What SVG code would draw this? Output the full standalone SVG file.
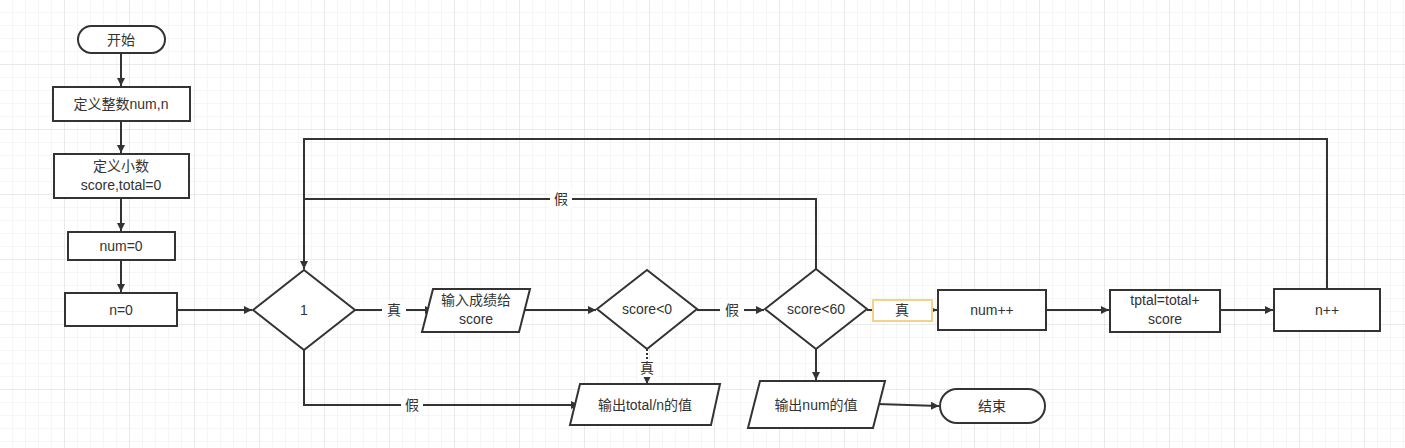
<svg xmlns="http://www.w3.org/2000/svg" width="1405" height="448" viewBox="0 0 1405 448">
<defs>
<pattern id="g" width="13" height="13" patternUnits="userSpaceOnUse"><path d="M13 0V13H0" fill="none" stroke="#ececec" stroke-width="1"/></pattern>
<pattern id="G" width="65" height="65" patternUnits="userSpaceOnUse"><rect width="65" height="65" fill="url(#g)"/><path d="M65 0V65H0" fill="none" stroke="#dedede" stroke-width="1"/></pattern>
<marker id="a" viewBox="0 0 10 10" refX="10" refY="5" markerWidth="8" markerHeight="8" markerUnits="userSpaceOnUse" orient="auto"><path d="M0 0L10 5L0 10z" fill="#333"/></marker>
</defs>
<style>
.s{fill:#fff;stroke:#333;stroke-width:2}
.t{font-family:"Liberation Sans","Noto Sans CJK SC",sans-serif;font-size:14px;fill:#333;text-anchor:middle;dominant-baseline:central}
.c path{fill:none;stroke:#333;stroke-width:2;marker-end:url(#a)}
.c path.n{marker-end:none}
.l{fill:#fff}
</style>
<rect width="1405" height="448" fill="#fff"/>
<rect width="1405" height="448" fill="url(#G)"/>
<g class="c">
<path d="M121 53V86"/>
<path d="M121 121V153"/>
<path d="M121 198V231"/>
<path d="M121 260V292"/>
<path d="M177 310H252"/>
<path d="M355 310H433"/>
<path d="M522 310H596"/>
<path d="M697 310H764"/>
<path d="M867 310H937"/>
<path d="M1046 310H1109"/>
<path d="M1220 310H1273"/>
<path d="M1327 289V139H304V269"/>
<path class="n" d="M816 269V199H304"/>
<path d="M304 350V405H579" stroke="#2f4a2f"/>
<path d="M647 349V384" stroke-dasharray="2 2"/>
<path d="M816 349V380"/>
<path d="M877 404L939 406"/>
<rect x="382" y="301" width="24" height="18" class="l"/>
<text x="394" y="310" class="t">真</text>
<rect x="720" y="301" width="24" height="18" class="l"/>
<text x="732" y="310" class="t">假</text>
<rect x="550" y="190" width="22" height="18" class="l"/>
<text x="561" y="199" class="t">假</text>
<rect x="401" y="396" width="22" height="18" class="l"/>
<text x="412" y="405" class="t">假</text>
<rect x="637" y="359" width="20" height="18" class="l"/>
<text x="647" y="368" class="t">真</text>
<rect x="873" y="300" width="59" height="21" fill="#fff" stroke="#f5d28a" stroke-width="2"/>
<text x="902" y="310" class="t">真</text>
</g>
<g id="start"><rect x="78" y="26" width="87" height="27" rx="13.5" class="s"/><text x="121" y="39.5" class="t">开始</text></g>
<g id="defint"><rect x="53" y="87" width="137" height="34" class="s"/><text x="121" y="104" class="t">定义整数num,n</text></g>
<g id="deffloat"><rect x="54" y="154" width="135" height="44" class="s"/><text x="121" y="166" class="t">定义小数</text><text x="121" y="185" class="t">score,total=0</text></g>
<g id="num0"><rect x="68" y="232" width="107" height="28" class="s"/><text x="121" y="246" class="t">num=0</text></g>
<g id="n0"><rect x="65" y="293" width="112" height="33" class="s"/><text x="121" y="310" class="t">n=0</text></g>
<g id="cond1"><path d="M253 310L304 270L355 310L304 350Z" class="s"/><text x="304" y="310" class="t">1</text></g>
<g id="input"><path d="M433 289H530L519 332H422Z" class="s"/><text x="476" y="300" class="t">输入成绩给</text><text x="476" y="319" class="t">score</text></g>
<g id="lt0"><path d="M597 309L647 270L697 309L647 349Z" class="s"/><text x="647" y="309" class="t">score&lt;0</text></g>
<g id="lt60"><path d="M765 309L816 269L867 309L816 349Z" class="s"/><text x="816" y="309" class="t">score&lt;60</text></g>
<g id="numpp"><rect x="938" y="290" width="108" height="40" class="s"/><text x="992" y="310" class="t">num++</text></g>
<g id="total"><rect x="1110" y="290" width="110" height="42" class="s"/><text x="1165" y="300" class="t">tptal=total+</text><text x="1165" y="319" class="t">score</text></g>
<g id="npp"><rect x="1274" y="289" width="106" height="42" class="s"/><text x="1327" y="310" class="t">n++</text></g>
<g id="outtotal"><path d="M580 384H720L711 425H570Z" class="s"/><text x="645" y="405" class="t">输出total/n的值</text></g>
<g id="outnum"><path d="M760 381H885L873 428H748Z" class="s"/><text x="816" y="405" class="t">输出num的值</text></g>
<g id="end"><rect x="940" y="389" width="105" height="34" rx="17" class="s"/><text x="992" y="406" class="t">结束</text></g>
</svg>
